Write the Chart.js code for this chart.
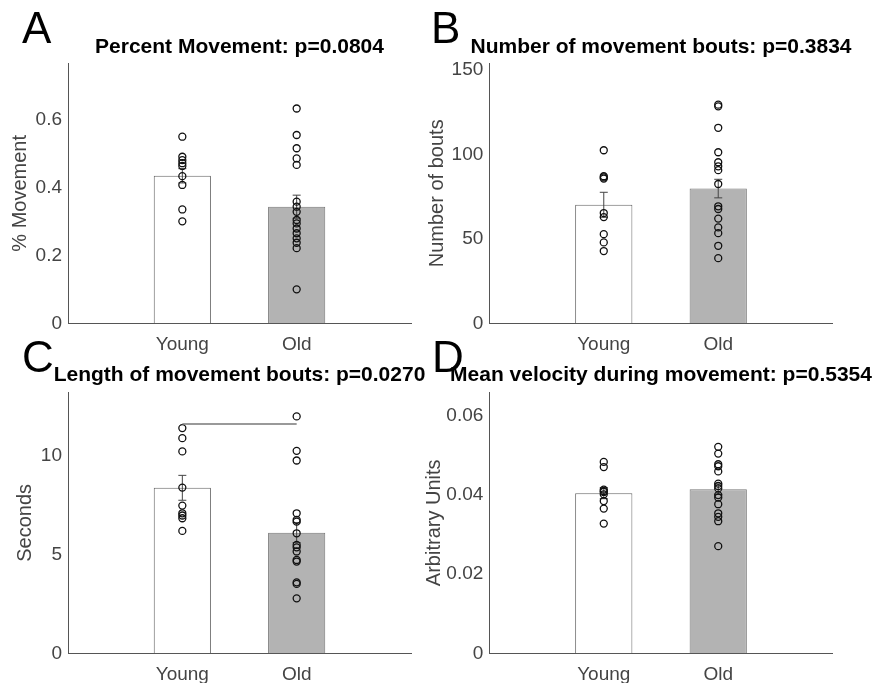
<!DOCTYPE html>
<html>
<head>
<meta charset="utf-8">
<script src="https://cdn.jsdelivr.net/npm/chart.js@4"></script>
<style>
  body { margin: 0; background: #fff; }
  #wrap { position: relative; width: 876px; height: 683px; overflow: hidden; }
  canvas { position: absolute; }
  .tag { position: absolute; font-family: "Liberation Sans", Arial, sans-serif; font-size: 44px; line-height: 1; color: #000; }
</style>
</head>
<body>
<div id="wrap">
  <canvas id="chartA" width="479" height="355" style="left:0;top:0"></canvas>
  <canvas id="chartB" width="492" height="355" style="left:415px;top:0"></canvas>
  <canvas id="chartC" width="479" height="328" style="left:0;top:355px"></canvas>
  <canvas id="chartD" width="492" height="328" style="left:415px;top:355px"></canvas>
  <div class="tag" style="left:22px;top:6px">A</div>
  <div class="tag" style="left:431px;top:6px">B</div>
  <div class="tag" style="left:22px;top:335px">C</div>
  <div class="tag" style="left:432px;top:335px">D</div>
</div>
<script>
const groups = ['Young', 'Old'];

// percent of time moving
const pctYoung = [0.549, 0.490, 0.480, 0.471, 0.463, 0.433, 0.407, 0.335, 0.300];
const pctOld = [0.632, 0.554, 0.515, 0.485, 0.466, 0.358, 0.343, 0.328, 0.304, 0.294, 0.279, 0.265, 0.250, 0.237, 0.221, 0.100];
const pctMean = [0.434, 0.343];
const pctSem = [0.021, 0.034];
const pctTicks = [0, 0.2, 0.4, 0.6];

// number of bouts
const boutsYoung = [102.5, 87.1, 86.4, 85.7, 65.3, 62.9, 52.8, 47.9, 42.8];
const boutsOld = [129.5, 128.5, 115.8, 101.3, 95.4, 93.0, 90.7, 82.5, 69.3, 67.7, 62.0, 56.8, 53.4, 45.9, 38.6];
const boutsMean = [70.2, 79.8];
const boutsSem = [7.4, 5.5];
const boutsTicks = [0, 50, 100, 150];

// bout length (s)
const lenYoung = [11.39, 10.88, 10.21, 8.38, 7.47, 7.08, 6.97, 6.83, 6.19];
const lenOld = [11.98, 10.24, 9.75, 7.08, 6.75, 6.66, 6.07, 5.48, 5.36, 5.15, 4.72, 4.64, 3.59, 3.51, 2.78];
const lenMean = [8.37, 6.10];
const lenSem = [0.63, 0.5];
const lenTicks = [0, 5, 10];
const lenSigY = 11.6;

// mean velocity
const velYoung = [0.0484, 0.0471, 0.0414, 0.0410, 0.0408, 0.0402, 0.0385, 0.0366, 0.0328];
const velOld = [0.0522, 0.0505, 0.0478, 0.0473, 0.0460, 0.0429, 0.0423, 0.0417, 0.0400, 0.0394, 0.0377, 0.0354, 0.0345, 0.0334, 0.0271];
const velMean = [0.0405, 0.0415];
const velSem = [0.0014, 0.0013];
const velTicks = [0, 0.02, 0.04, 0.06];

const FONT = '"Liberation Sans", Arial, sans-serif';
const AXIS = '#555';
const TEXT = '#444';

function pointsAt(x, values) {
    return values.map(v => ({ x: x, y: v }));
}

function makePanel(id, p) {
    const datasets = [{
        type: 'bar',
        data: p.means.map((m, i) => ({ x: i + 1, y: m })),
        backgroundColor: ['#ffffff', '#b3b3b3'],
        borderColor: ['#666', '#777'],
        borderWidth: 1,
        categoryPercentage: 1,
        barPercentage: 0.5,
        order: 3
    }];

    // error bars, mean +/- sem
    p.means.forEach((m, i) => {
        datasets.push({
            type: 'line',
            data: [{ x: i + 1, y: m - p.sem[i] }, { x: i + 1, y: m + p.sem[i] }],
            borderColor: '#444',
            borderWidth: 1,
            pointStyle: 'line',
            pointRadius: 4,
            pointBorderColor: '#444',
            pointBorderWidth: 1,
            order: 2
        });
    });

    [p.young, p.old].forEach((vals, i) => {
        datasets.push({
            type: 'scatter',
            data: pointsAt(i + 1, vals),
            pointRadius: 3.5,
            pointBorderWidth: 1.3,
            pointBorderColor: '#111',
            pointBackgroundColor: 'rgba(0,0,0,0)',
            order: 1
        });
    });

    if (p.sigY !== undefined) {
        datasets.push({
            type: 'line',
            data: [{ x: 1, y: p.sigY }, { x: 2, y: p.sigY }],
            borderColor: '#777',
            borderWidth: 1.5,
            pointRadius: 0,
            order: 0
        });
    }

    return new Chart(document.getElementById(id), {
        type: 'bar',
        data: { datasets },
        options: {
            responsive: false,
            animation: false,
            layout: { padding: 0 },
            plugins: {
                legend: { display: false },
                tooltip: { enabled: false },
                title: {
                    display: true,
                    text: p.title,
                    color: '#000',
                    font: { family: FONT, size: 21, weight: 'bold' },
                    padding: { top: p.titleTop, bottom: p.titleBottom }
                }
            },
            scales: {
                x: {
                    type: 'linear',
                    min: 0,
                    max: 3,
                    offset: false,
                    grid: { display: false, drawTicks: false, offset: false },
                    border: { color: AXIS, width: 1 },
                    afterBuildTicks: s => { s.ticks = [{ value: 1 }, { value: 2 }]; },
                    afterFit: s => { s.height = p.xH; },
                    ticks: {
                        padding: 10,
                        color: TEXT,
                        font: { family: FONT, size: 19 },
                        maxRotation: 0,
                        callback: v => groups[v - 1]
                    }
                },
                y: {
                    min: 0,
                    max: p.max,
                    grid: { display: false, drawTicks: false },
                    border: { color: AXIS, width: 1 },
                    afterBuildTicks: s => { s.ticks = p.ticks.map(v => ({ value: v })); },
                    afterFit: s => { s.width = p.yW; },
                    ticks: {
                        padding: 6,
                        color: TEXT,
                        font: { family: FONT, size: 19 },
                        callback: v => String(v)
                    },
                    title: {
                        display: true,
                        text: p.yTitle,
                        color: TEXT,
                        font: { family: FONT, size: 20 },
                        padding: { top: p.yTitlePad, bottom: 0 }
                    }
                },
                // empty right-hand axis, same width as the left one, keeps the plot centred under the title
                yPad: {
                    position: 'right',
                    min: 0,
                    max: p.max,
                    grid: { display: false, drawTicks: false },
                    border: { display: false },
                    ticks: { display: false },
                    afterFit: s => { s.width = p.yW; }
                }
            }
        }
    });
}

makePanel('chartA', {
    title: 'Percent Movement: p=0.0804', yTitle: '% Movement',
    young: pctYoung, old: pctOld, means: pctMean, sem: pctSem,
    ticks: pctTicks, max: 0.765,
    yW: 68, xH: 31.7, titleTop: 34.2, titleBottom: 3.9, yTitlePad: 8
});
makePanel('chartB', {
    title: 'Number of movement bouts: p=0.3834', yTitle: 'Number of bouts',
    young: boutsYoung, old: boutsOld, means: boutsMean, sem: boutsSem,
    ticks: boutsTicks, max: 154,
    yW: 74.3, xH: 31.7, titleTop: 34.2, titleBottom: 3.9, yTitlePad: 10
});
makePanel('chartC', {
    title: 'Length of movement bouts: p=0.0270', yTitle: 'Seconds',
    young: lenYoung, old: lenOld, means: lenMean, sem: lenSem, sigY: lenSigY,
    ticks: lenTicks, max: 13.2,
    yW: 68, xH: 29.7, titleTop: 7.5, titleBottom: 4.6, yTitlePad: 13
});
makePanel('chartD', {
    title: 'Mean velocity during movement: p=0.5354', yTitle: 'Arbitrary Units',
    young: velYoung, old: velOld, means: velMean, sem: velSem,
    ticks: velTicks, max: 0.066,
    yW: 74.3, xH: 29.7, titleTop: 7.5, titleBottom: 4.6, yTitlePad: 7
});
</script>
</body>
</html>
